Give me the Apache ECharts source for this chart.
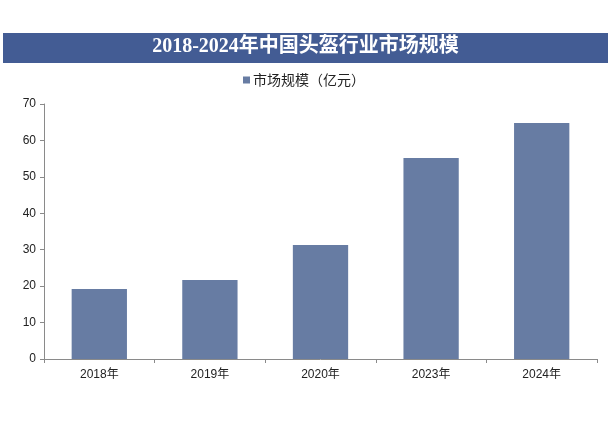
<!DOCTYPE html>
<html>
<head>
<meta charset="utf-8">
<script src="https://cdn.jsdelivr.net/npm/echarts@6/dist/echarts.min.js"></script>
<style>html,body{margin:0;padding:0;background:#fff;}#c{width:611px;height:424px;}</style>
</head>
<body>
<div id="c"></div>
<script>
var titleText = '2018-2024年中国头盔行业市场规模';
var seriesName = '市场规模（亿元）';
var categories = ['2018年', '2019年', '2020年', '2023年', '2024年'];
var values = [19.2, 21.7, 31.3, 55.2, 64.8];
var yTicks = { min: 0, max: 70, interval: 10 };

var chart = echarts.init(document.getElementById('c'));
chart.setOption({
  animation: false,
  backgroundColor: '#ffffff',
  graphic: [{
    type: 'rect',
    left: 3, top: 33,
    shape: { width: 605, height: 30 },
    style: { fill: '#435c94' },
    z: 0
  }, {
    type: 'text',
    left: 'center', top: 37,
    style: {
      text: titleText,
      fill: '#ffffff',
      font: 'bold 20px "Liberation Serif", "Noto Sans CJK SC", serif'
    },
    z: 1
  }],
  legend: {
    left: 243, top: 73,
    padding: 0,
    itemWidth: 7, itemHeight: 7,
    itemGap: 4,
    icon: 'rect',
    textStyle: { fontSize: 14, color: '#222', fontFamily: '"Noto Sans CJK SC", sans-serif', padding: [0, 0, 0, -2] },
    data: [seriesName]
  },
  grid: { left: 44, right: 14, top: 104, bottom: 65, containLabel: false },
  xAxis: {
    type: 'category',
    data: categories,
    axisLine: { lineStyle: { color: '#8a8a8a', width: 1 } },
    axisTick: { show: true, length: 4, lineStyle: { color: '#8a8a8a' } },
    axisLabel: { color: '#222', fontSize: 12, margin: 10, fontFamily: 'Arial, "Liberation Sans", "Noto Sans CJK SC", sans-serif' }
  },
  yAxis: {
    type: 'value',
    min: yTicks.min, max: yTicks.max, interval: yTicks.interval,
    axisLine: { show: true, lineStyle: { color: '#8a8a8a', width: 1 } },
    axisTick: { show: true, length: 4, lineStyle: { color: '#8a8a8a' } },
    splitLine: { show: false },
    axisLabel: { color: '#222', fontSize: 12, margin: 8, fontFamily: 'Arial, "Liberation Sans", sans-serif' }
  },
  series: [{
    name: seriesName,
    type: 'bar',
    data: values,
    barWidth: '50%',
    itemStyle: { color: '#677ca3' }
  }]
});
</script>
</body>
</html>
